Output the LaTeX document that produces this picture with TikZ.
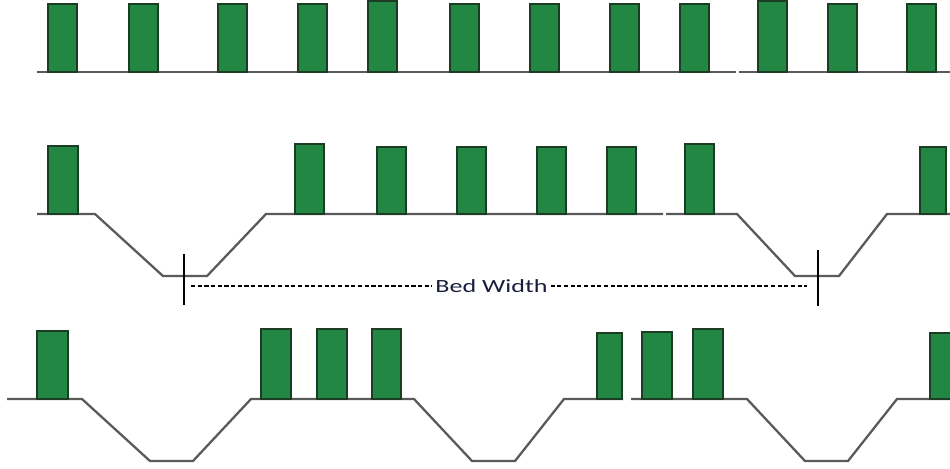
\documentclass[tikz,border=0pt]{standalone}
\usepackage{fontspec}
\setmainfont{Carlito}
\usetikzlibrary{positioning,calc}
\definecolor{BED-GREEN}{RGB}{34, 135, 66}
\definecolor{BED-EDGE}{RGB}{28, 60, 36}
\definecolor{SOIL-GREY}{RGB}{90, 90, 90}
\definecolor{LABEL-INK}{RGB}{25, 30, 60}

\tikzset{
  plant/.style={fill=BED-GREEN, draw=BED-EDGE, line width=0.7pt},
  soil/.style={draw=SOIL-GREY, line width=1.3pt, line join=miter},
  marker/.style={draw=black, line width=0.8pt},
  guide/.style={draw=black, line width=0.6pt, dash pattern=on 2.4pt off 1.4pt}
}

\begin{document}
\begin{tikzpicture}[x=0.02cm, y=-0.02cm]
  \clip (0,0) rectangle (950,468);

  % Row 1: flat ground
  \draw[soil] (37,72) -- (736,72);
  \draw[soil] (739,72) -- (950,72);
  \foreach \x/\t in {48/4, 129/4, 218/4, 298/4, 368/1, 450/4,
                     530/4, 610/4, 680/4, 758/1, 828/4, 907/4}
    \filldraw[plant] (\x,\t) rectangle ++(29,72-\t);

  % Row 2: one furrow each side
  \draw[soil] (37,214) -- (95,214) -- (163,276) -- (207,276)
    -- (266,214) -- (663,214);
  \draw[soil] (666,214) -- (737,214) -- (795,276) -- (839,276)
    -- (887,214) -- (950,214);
  \foreach \x/\t/\w in {48/146/30, 295/144/29, 377/147/29, 457/147/29,
                        537/147/29, 607/147/29, 685/144/29, 920/147/26}
    \filldraw[plant] (\x,\t) rectangle ++(\w,214-\t);

  % Bed width marker
  \coordinate (tickL) at (184,254);
  \coordinate (tickR) at (818,250);
  \draw[marker] (tickL) -- ++(0,51);
  \draw[marker] (tickR) -- ++(0,56);
  \node[inner sep=1.5pt, text=LABEL-INK,
        font=\fontsize{10.6}{12}\selectfont] (bw) at (491.5,286)
    {\scalebox{1.4}[1]{Bed Width}};
  \draw[guide] ([xshift=4]tickL |- bw.west) -- (bw.west);
  \draw[guide] (bw.east) -- ([xshift=-6]tickR |- bw.east);

  % Row 3: furrows
  \draw[soil] (7,399) -- (82,399) -- (150,461) -- (193,461)
    -- (251,399) -- (414,399) -- (472,461) -- (515,461)
    -- (564,399) -- (623,399);
  \draw[soil] (631,399) -- (747,399) -- (805,461) -- (848,461)
    -- (897,399) -- (950,399);
  \foreach \x/\t/\w in {37/331/31, 261/329/30, 317/329/30, 372/329/29,
                        597/333/25, 642/332/30, 693/329/30, 930/333/30}
    \filldraw[plant] (\x,\t) rectangle ++(\w,399-\t);
\end{tikzpicture}
\end{document}
